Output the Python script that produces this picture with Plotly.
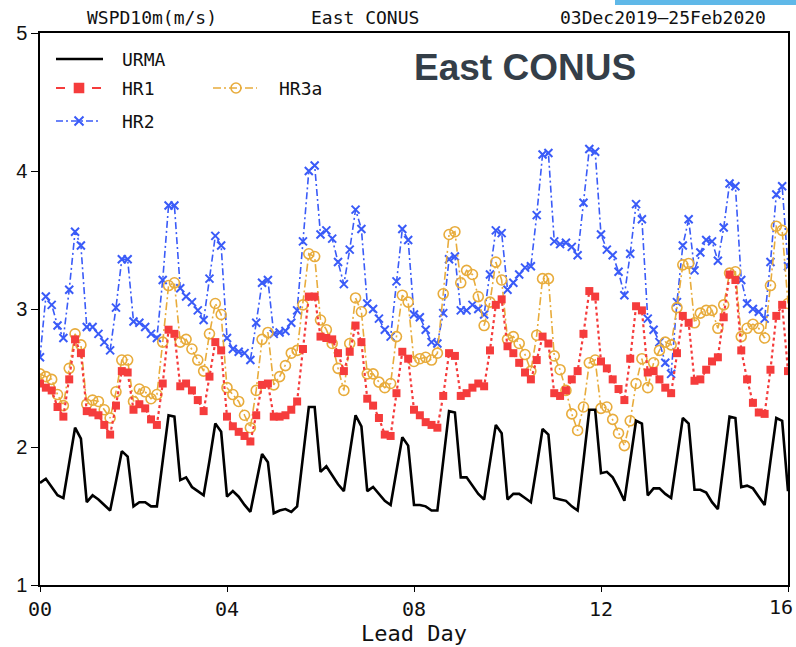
import plotly.graph_objects as go

# ---------------- data (3-hourly, lead day 0..16) ----------------
lead_hours = list(range(0, 385, 3))
lead_day = [h / 24 for h in lead_hours]

urma = [
    1.74, 1.77, 1.71, 1.65, 1.63, 1.88, 2.14, 2.06,
    1.60, 1.65, 1.62, 1.58, 1.54, 1.75, 1.97, 1.93,
    1.57, 1.60, 1.60, 1.57, 1.57, 1.90, 2.23, 2.22,
    1.76, 1.78, 1.71, 1.68, 1.65, 1.90, 2.17, 2.11,
    1.64, 1.68, 1.64, 1.58, 1.53, 1.74, 1.95, 1.89,
    1.52, 1.54, 1.55, 1.53, 1.57, 1.93, 2.29, 2.29,
    1.82, 1.86, 1.79, 1.73, 1.68, 1.95, 2.23, 2.15,
    1.68, 1.71, 1.66, 1.61, 1.58, 1.82, 2.07, 2.01,
    1.58, 1.58, 1.57, 1.54, 1.54, 1.90, 2.26, 2.25,
    1.78, 1.78, 1.72, 1.66, 1.62, 1.89, 2.16, 2.10,
    1.62, 1.66, 1.66, 1.63, 1.60, 1.86, 2.13, 2.09,
    1.63, 1.62, 1.61, 1.57, 1.54, 1.90, 2.27, 2.27,
    1.81, 1.82, 1.78, 1.70, 1.61, 1.90, 2.19, 2.17,
    1.65, 1.70, 1.70, 1.66, 1.63, 1.92, 2.21, 2.17,
    1.69, 1.69, 1.67, 1.60, 1.55, 1.88, 2.22, 2.21,
    1.71, 1.72, 1.70, 1.64, 1.58, 1.90, 2.21, 2.19,
    1.68,
]

hr1 = [
    2.46, 2.43, 2.41, 2.29, 2.22, 2.49, 2.78, 2.68,
    2.26, 2.25, 2.23, 2.16, 2.09, 2.30, 2.55, 2.54,
    2.27, 2.31, 2.28, 2.20, 2.16, 2.46, 2.85, 2.82,
    2.44, 2.46, 2.41, 2.34, 2.26, 2.51, 2.76, 2.70,
    2.22, 2.15, 2.11, 2.08, 2.04, 2.23, 2.45, 2.46,
    2.22, 2.22, 2.23, 2.27, 2.33, 2.71, 3.09, 3.09,
    2.80, 2.79, 2.78, 2.68, 2.55, 2.69, 2.88, 2.76,
    2.35, 2.30, 2.21, 2.09, 2.08, 2.39, 2.69, 2.64,
    2.27, 2.23, 2.18, 2.16, 2.14, 2.37, 2.68, 2.66,
    2.37, 2.39, 2.43, 2.46, 2.44, 2.70, 3.03, 3.07,
    2.73, 2.68, 2.61, 2.54, 2.49, 2.63, 2.80, 2.75,
    2.39, 2.37, 2.41, 2.49, 2.55, 2.82, 3.13, 3.09,
    2.62, 2.57, 2.49, 2.42, 2.34, 2.64, 3.02, 2.99,
    2.54, 2.55, 2.49, 2.43, 2.39, 2.68, 2.95, 2.90,
    2.48, 2.49, 2.56, 2.62, 2.65, 2.94, 3.25, 3.21,
    2.70, 2.49, 2.32, 2.25, 2.24, 2.56, 2.95, 3.03,
    2.55,
]

hr2 = [
    2.65, 3.09, 3.03, 2.88, 2.79, 3.14, 3.56, 3.46,
    2.87, 2.87, 2.82, 2.76, 2.70, 3.01, 3.36, 3.36,
    2.91, 2.90, 2.87, 2.82, 2.79, 3.21, 3.75, 3.75,
    3.15, 3.09, 3.05, 2.99, 2.92, 3.22, 3.53, 3.46,
    2.79, 2.71, 2.69, 2.68, 2.63, 2.90, 3.19, 3.21,
    2.82, 2.83, 2.84, 2.90, 2.99, 3.49, 4.00, 4.04,
    3.54, 3.57, 3.51, 3.34, 3.18, 3.43, 3.72, 3.58,
    3.04, 3.00, 2.93, 2.85, 2.80, 3.20, 3.58, 3.50,
    2.96, 2.94, 2.85, 2.76, 2.75, 2.97, 3.36, 3.38,
    2.99, 2.99, 3.03, 3.00, 2.96, 3.25, 3.57, 3.55,
    3.14, 3.19, 3.25, 3.30, 3.31, 3.68, 4.12, 4.13,
    3.49, 3.47, 3.48, 3.45, 3.39, 3.77, 4.16, 4.14,
    3.54, 3.43, 3.39, 3.27, 3.10, 3.40, 3.76, 3.65,
    2.93, 2.85, 2.76, 2.61, 2.53, 3.05, 3.46, 3.65,
    3.28, 3.41, 3.50, 3.49, 3.35, 3.59, 3.91, 3.89,
    3.21, 3.04, 3.00, 2.98, 2.93, 3.34, 3.83, 3.89,
    3.31,
]

hr3a = [
    2.53, 2.51, 2.49, 2.38, 2.30, 2.57, 2.82, 2.74,
    2.31, 2.34, 2.33, 2.27, 2.21, 2.40, 2.63, 2.63,
    2.33, 2.42, 2.40, 2.35, 2.38, 2.76, 3.17, 3.19,
    2.76, 2.78, 2.71, 2.63, 2.55, 2.82, 3.04, 2.96,
    2.43, 2.38, 2.33, 2.23, 2.14, 2.41, 2.78, 2.83,
    2.45, 2.51, 2.59, 2.68, 2.70, 3.03, 3.40, 3.38,
    2.92, 2.85, 2.75, 2.57, 2.41, 2.75, 3.08, 2.98,
    2.53, 2.53, 2.47, 2.43, 2.46, 2.80, 3.10, 3.05,
    2.62, 2.64, 2.65, 2.63, 2.68, 3.11, 3.54, 3.56,
    3.19, 3.28, 3.25, 3.09, 2.88, 3.05, 3.34, 3.21,
    2.78, 2.80, 2.75, 2.67, 2.55, 2.81, 3.22, 3.22,
    2.66, 2.56, 2.41, 2.24, 2.12, 2.29, 2.61, 2.63,
    2.28, 2.29, 2.20, 2.10, 2.01, 2.19, 2.46, 2.64,
    2.43, 2.61, 2.70, 2.76, 2.74, 3.01, 3.32, 3.33,
    2.90, 2.97, 2.99, 2.99, 2.86, 3.03, 3.26, 3.27,
    2.80, 2.86, 2.89, 2.86, 2.79, 3.17, 3.60, 3.57,
    3.04,
]

x_tickvals = [0, 4, 8, 12, 16]
x_ticktext = ["00", "04", "08", "12", "16"]
y_tickvals = [1, 2, 3, 4, 5]
series_names = ["URMA", "HR1", "HR2", "HR3a"]

# ---------------- styles ----------------
C_URMA = "#000000"
C_HR1 = "#f53c3c"
C_HR2 = "#3a5bf8"
C_HR3 = "#e8ac3c"
GRADS_FONT = "DejaVu Sans Mono"
TICK_FONT = dict(family=GRADS_FONT, size=20, color="#111111")

fig = go.Figure()

fig.add_trace(go.Scatter(
    x=lead_day, y=hr2, mode="lines+markers", name=series_names[2],
    line=dict(color=C_HR2, width=1.6, dash="7px,3px,2px,3px"),
    marker=dict(symbol="x-thin-open", size=8, line=dict(color=C_HR2, width=2)),
))
fig.add_trace(go.Scatter(
    x=lead_day, y=hr3a, mode="lines+markers", name=series_names[3],
    line=dict(color=C_HR3, width=1.6, dash="8px,3px,2px,3px"),
    marker=dict(symbol="circle-open", size=10, color=C_HR3, line=dict(color=C_HR3, width=1.6)),
))
fig.add_trace(go.Scatter(
    x=lead_day, y=hr1, mode="lines+markers", name=series_names[1],
    line=dict(color=C_HR1, width=2.2, dash="dot"),
    marker=dict(symbol="square", size=8, color=C_HR1),
))
fig.add_trace(go.Scatter(
    x=lead_day, y=urma, mode="lines", name=series_names[0],
    line=dict(color=C_URMA, width=2.6),
))

# ---------------- custom legend on an overlay pixel-like axis ----------------
leg_items = [
    # (name, line x0, x1, y, marker x, text x, color, dash, symbol, width)
    (series_names[0], 56, 103, 59, None, 120, C_URMA, "solid", None, 2.6),
    (series_names[1], 56, 103, 88, 79, 120, C_HR1, "dash", "square", 2.2),
    (series_names[3], 213, 257, 88, 236, 277, C_HR3, "8px,3px,2px,3px", "circle-open", 1.6),
    (series_names[2], 56, 100, 121, 79, 120, C_HR2, "7px,3px,2px,3px", "x-thin-open", 1.6),
]
for name, x0, x1, yy, mx, tx, col, dsh, sym, w in leg_items:
    fig.add_trace(go.Scatter(
        x=[x0, x1], y=[yy, yy], mode="lines", xaxis="x2", yaxis="y2",
        line=dict(color=col, width=w, dash=dsh), showlegend=False, hoverinfo="skip",
    ))
    if sym is not None:
        mk = dict(symbol=sym, size=10 if sym == "circle-open" else 9, color=col,
                  line=dict(color=col, width=2 if sym == "x-thin-open" else 1.6))
        fig.add_trace(go.Scatter(
            x=[mx], y=[yy], mode="markers", xaxis="x2", yaxis="y2",
            marker=mk, showlegend=False, hoverinfo="skip",
        ))
    fig.add_annotation(x=tx, y=yy, xref="x2", yref="y2", text=name, showarrow=False,
                       xanchor="left", yanchor="middle",
                       font=dict(family=GRADS_FONT, size=18, color="#111111"))

# ---------------- titles ----------------
top_y = (585 - 17) / 552
fig.add_annotation(x=(152 - 40) / 748, y=top_y, xref="paper", yref="paper",
                   text="WSPD10m(m/s)", showarrow=False, xanchor="center", yanchor="middle",
                   font=dict(family=GRADS_FONT, size=18, color="#111111"))
fig.add_annotation(x=(365 - 40) / 748, y=top_y, xref="paper", yref="paper",
                   text="East CONUS", showarrow=False, xanchor="center", yanchor="middle",
                   font=dict(family=GRADS_FONT, size=18, color="#111111"))
fig.add_annotation(x=(768 - 40) / 748, y=top_y, xref="paper", yref="paper",
                   text="03Dec2019\u201325Feb2020", showarrow=False, xanchor="right", yanchor="middle",
                   font=dict(family=GRADS_FONT, size=18, color="#111111"))
fig.add_annotation(x=(525 - 40) / 748, y=(585 - 68) / 552, xref="paper", yref="paper",
                   text="<b>East CONUS</b>", showarrow=False, xanchor="center", yanchor="middle",
                   font=dict(family="Liberation Sans, Arial", size=37, color="#343e48"))

# last x tick label sits flush with the right edge of the image
fig.add_annotation(x=(795 - 40) / 748, y=(585 - 607) / 552, xref="paper", yref="paper",
                   text=x_ticktext[-1], showarrow=False, xanchor="right", yanchor="middle",
                   font=TICK_FONT)

# blue strip (cropped logo) at top right
fig.add_shape(type="rect", xref="paper", yref="paper",
              x0=(615 - 40) / 748, x1=(796 - 40) / 748,
              y0=(585 - 5) / 552, y1=(585 - 0) / 552,
              fillcolor="#5fb8e8", line=dict(width=0), layer="above")

fig.update_layout(
    width=796, height=647,
    margin=dict(l=40, r=8, t=33, b=62, autoexpand=False),
    plot_bgcolor="white", paper_bgcolor="white",
    showlegend=False,
    xaxis=dict(
        range=[0, 16], tickvals=x_tickvals, ticktext=x_ticktext[:-1] + [""],
        showline=True, linecolor="black", linewidth=1.5, mirror=True,
        ticks="outside", ticklen=5, tickcolor="black", tickwidth=1.2,
        showgrid=False, zeroline=False, automargin=False,
        tickfont=TICK_FONT,
        title=dict(text="Lead Day", font=dict(family=GRADS_FONT, size=22, color="#111111"), standoff=6),
    ),
    yaxis=dict(
        range=[1, 5], tickvals=y_tickvals,
        showline=True, linecolor="black", linewidth=1.5, mirror=True,
        ticks="outside", ticklen=7, tickcolor="black", tickwidth=1.2,
        showgrid=False, zeroline=False, automargin=False,
        tickfont=dict(family="Liberation Sans, Arial", size=20, color="#111111"),
    ),
    xaxis2=dict(range=[40, 788], overlaying="x", anchor="y2", visible=False, fixedrange=True),
    yaxis2=dict(range=[585, 33], overlaying="y", anchor="x2", visible=False, fixedrange=True),
)

fig.write_html("out.html")
